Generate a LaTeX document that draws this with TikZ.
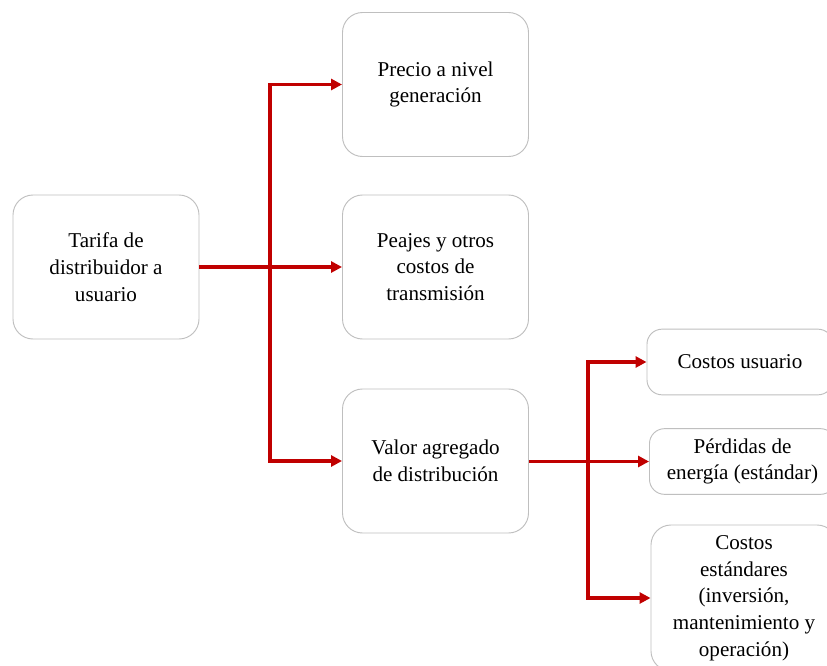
\documentclass[tikz,border=0pt]{standalone}
\usepackage{fontspec}
\setmainfont{Liberation Serif}
\usetikzlibrary{arrows.meta}
\definecolor{linkred}{HTML}{C00000}
\definecolor{boxgray}{HTML}{BFBFBF}

\begin{document}
\begin{tikzpicture}[x=0.03cm, y=-0.03cm,
        box/.style={draw=boxgray, line width=0.8pt, fill=white, rounded corners=0.6cm,
            minimum width=5.58cm, minimum height=4.32cm, align=center,
            font=\fontsize{18}{22.8}\selectfont},
        smallbox/.style={box, rounded corners=0.45cm, minimum height=1.97cm},
        link/.style={draw=linkred, line width=3pt,
            -{Triangle[length=0.33cm, width=0.33cm]}}]
        \clip (0,0) rectangle (827,666);
        % Below nodes are the boxes.
            \node[box] (tarifa) at (106, 267) {Tarifa de\\distribuidor a\\usuario};
            \node[box] (precio) at (435.5, 84.5) {Precio a nivel\\generación};
            \node[box] (peajes) at (435.5, 267) {Peajes y otros\\costos de\\transmisión};
            \node[box] (valor) at (435.5, 461) {Valor agregado\\de distribución};
            \node[smallbox] (usuario) at (740, 362) {Costos usuario};
            \node[smallbox] (perdidas) at (742.5, 461.5) {Pérdidas de\\energía (estándar)};
            \node[box, minimum height=4.38cm] (estandares) at (744, 598) {Costos\\estándares\\(inversión,\\mantenimiento y\\operación)};
        % Junctions of the red lines.
            \coordinate (j1) at (270, 267);
            \coordinate (j2) at (588, 461.5);
        % This draws the red arrows.
            \draw[link] (tarifa.east) -- (peajes.west);
            \draw[link] (j1) |- (precio.west);
            \draw[link] (j1) |- (valor.west);
            \draw[link] (valor.east |- j2) -- (perdidas.west);
            \draw[link] (j2) |- (usuario.west);
            \draw[link] (j2) |- (estandares.west);
\end{tikzpicture}
\end{document}
